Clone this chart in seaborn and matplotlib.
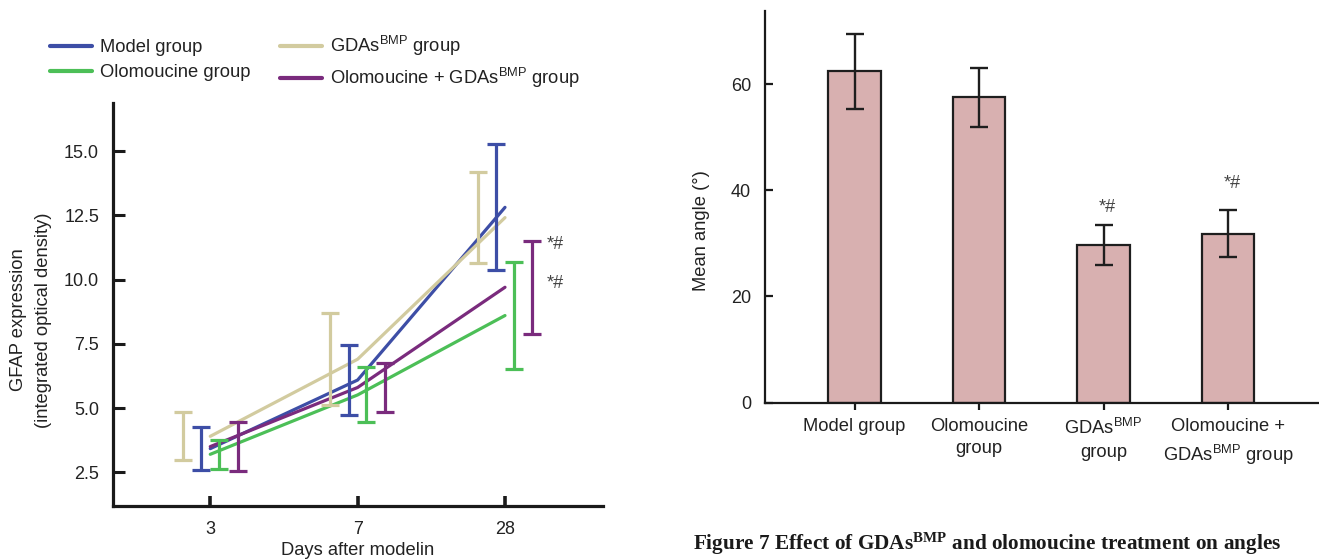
import numpy as np
import pandas as pd
import matplotlib
matplotlib.use("Agg")
import matplotlib.pyplot as plt
import seaborn as sns

# ---------------- data ----------------
days = ["3", "7", "28"]
series_names = ["Model group", "Olomoucine group",
                "GDAs$^{BMP}$ group", "Olomoucine + GDAs$^{BMP}$ group"]
model_mean = [3.42, 6.09, 12.81]
model_err = [0.83, 1.35, 2.45]
olo_mean = [3.20, 5.51, 8.60]
olo_err = [0.57, 1.07, 2.10]
gdas_mean = [3.90, 6.90, 12.41]
gdas_err = [0.94, 1.79, 1.76]
combo_mean = [3.50, 5.80, 9.70]
combo_err = [0.96, 0.96, 1.80]
day28_marks = ["*#", "*#"]
day28_mark_y = [11.38, 9.83]

bar_groups = ["Model group", "Olomoucine\ngroup", "GDAs$^{BMP}$\ngroup",
              "Olomoucine +\nGDAs$^{BMP}$ group"]
angle_mean = [62.4, 57.5, 29.7, 31.8]
angle_err = [7.1, 5.6, 3.75, 4.45]
angle_marks = ["", "", "*#", "*#"]
angle_mark_y = [0, 0, 36.7, 41.3]

caption = "Figure 7 Effect of GDAs$^{BMP}$ and olomoucine treatment on angles"

# ---------------- style ----------------
sns.set_theme(style="ticks")
plt.rcParams["font.family"] = ["Liberation Sans", "DejaVu Sans"]
plt.rcParams["mathtext.default"] = "regular"
TXT = "#222222"
FS = 13.2
TFS = 13.0

colors = ["#3d4ea6", "#4cbf57", "#d2cb9f", "#7a2b7d"]
means = [model_mean, olo_mean, gdas_mean, combo_mean]
errs = [model_err, olo_err, gdas_err, combo_err]
offsets = [-0.06, 0.06, -0.185, 0.185]

fig = plt.figure(figsize=(13.19, 5.6), dpi=100)
W, H = 1319, 560

# ---------------- left: line chart ----------------
axL = fig.add_axes([113 / W, 1 - 505.7 / H, (603 - 113) / W, (505.7 - 103) / H])
rows = []
for name, m in zip(series_names, means):
    for i, v in enumerate(m):
        rows.append({"pos": i, "value": v, "group": name})
df = pd.DataFrame(rows)
sns.lineplot(data=df, x="pos", y="value", hue="group", hue_order=series_names,
             palette=colors, linewidth=2.3, ax=axL, legend=True)
for m, e, c, off in zip(means, errs, colors, offsets):
    x = np.arange(len(days)) + off
    axL.errorbar(x, m, yerr=e, fmt="none", ecolor=c, elinewidth=2.3,
                 capsize=6.2, capthick=2.3)

for t, yv in zip(day28_marks, day28_mark_y):
    axL.text(2.286, yv, t, fontsize=13, color="#444444", va="center", ha="left")

axL.set_xlim(-0.66, 2.665)
axL.set_ylim(1.2, 16.87)
axL.set_xticks(range(len(days)))
axL.set_xticklabels(days)
axL.set_yticks([2.5, 5.0, 7.5, 10.0, 12.5, 15.0])
axL.set_yticklabels(["2.5", "5.0", "7.5", "10.0", "12.5", "15.0"])
axL.set_xlabel("Days after modelin", fontsize=FS, color=TXT, labelpad=3)
axL.set_ylabel("GFAP expression\n(integrated optical density)", fontsize=FS,
               color=TXT, linespacing=1.6)
axL.yaxis.set_label_coords(-0.125, 0.461)
for s in ["top", "right"]:
    axL.spines[s].set_visible(False)
for s in ["left", "bottom"]:
    axL.spines[s].set_linewidth(2.3)
    axL.spines[s].set_color("#1a1a1a")
axL.tick_params(axis="y", direction="in", length=8.6, width=2.2, pad=10,
                labelsize=TFS, labelcolor=TXT, color="#1a1a1a")
axL.tick_params(axis="x", direction="in", length=7, width=2.6, pad=11,
                labelsize=TFS, labelcolor=TXT, color="#1a1a1a")

handles, labels = axL.get_legend_handles_labels()
axL.get_legend().remove()
for h in handles:
    h.set_linewidth(3.0)
fig.legend(handles, labels, loc="upper left", bbox_to_anchor=(50 / W, 1 - 34 / H),
           ncol=2, frameon=False, fontsize=FS, borderaxespad=0, borderpad=0,
           handlelength=2.3, handletextpad=0.44, columnspacing=1.6,
           labelspacing=0.43, labelcolor=TXT)

# ---------------- right: bar chart ----------------
axR = fig.add_axes([765 / W, 1 - 402.7 / H, (1319 - 765) / W, (402.7 - 10.7) / H])
bdf = pd.DataFrame({"group": bar_groups, "angle": angle_mean})
sns.barplot(data=bdf, x="group", y="angle", color="#d8b0b0", width=0.42,
            edgecolor="#1e1e1e", linewidth=1.6, saturation=1, errorbar=None, ax=axR)
xpos = np.arange(len(bar_groups))
axR.errorbar(xpos, angle_mean, yerr=angle_err, fmt="none", ecolor="#1e1e1e",
             elinewidth=1.7, capsize=6.5, capthick=1.7)
for x, yv, t in zip(xpos, angle_mark_y, angle_marks):
    if t:
        axR.text(x + 0.03, yv, t, ha="center", va="center", fontsize=13,
                 color="#444444")
axR.set_xlim(-0.72, 3.73)
axR.set_ylim(0, 73.8)
axR.set_yticks([0, 20, 40, 60])
axR.set_xlabel("")
axR.set_ylabel("Mean angle (°)", fontsize=FS, color=TXT)
axR.yaxis.set_label_coords(-0.099, 0.44)
for s in ["top", "right"]:
    axR.spines[s].set_visible(False)
for s in ["left", "bottom"]:
    axR.spines[s].set_linewidth(1.6)
    axR.spines[s].set_color("#1a1a1a")
axR.tick_params(axis="y", direction="in", length=6, width=1.6, pad=10,
                labelsize=TFS, labelcolor=TXT, color="#1a1a1a")
axR.tick_params(axis="x", direction="out", length=5, width=1.6, pad=6,
                labelsize=FS, labelcolor=TXT, color="#1a1a1a")
for t in axR.get_xticklabels():
    t.set_linespacing(1.42)

fig.text(693 / W, 1 - 550 / H, caption, fontsize=15.3, fontweight="bold",
         family=["Liberation Serif", "DejaVu Serif"], color="#1a1a1a",
         ha="left", va="baseline")

fig.savefig("out.png", dpi=100)
